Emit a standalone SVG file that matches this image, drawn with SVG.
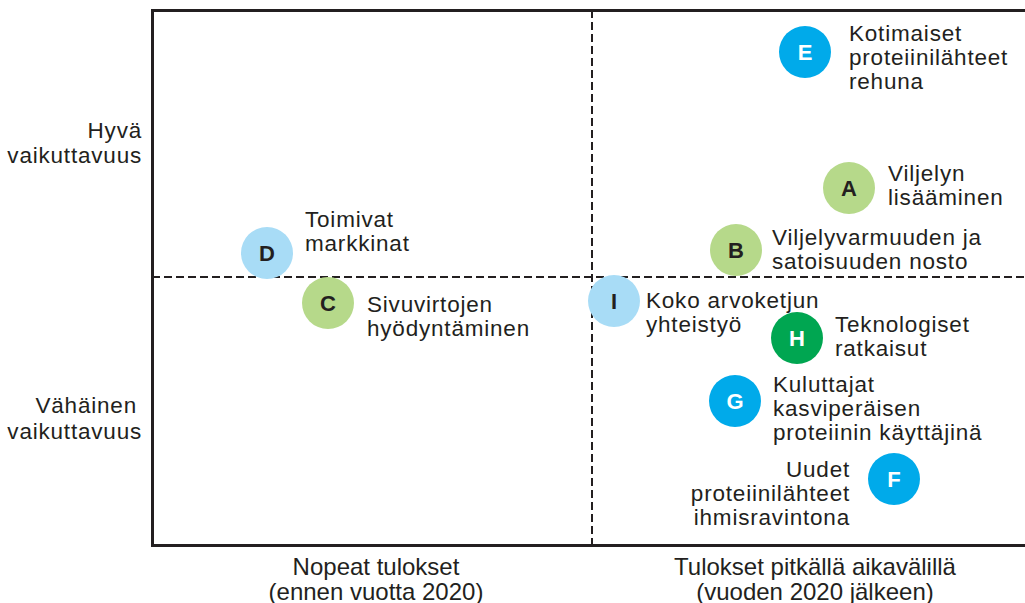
<svg xmlns="http://www.w3.org/2000/svg" width="1025" height="603" viewBox="0 0 1025 603">
<style>
.lbl{font-family:"Liberation Sans",Arial,Helvetica,sans-serif;font-size:22.5px;fill:#231f20;letter-spacing:0.8px}
.ax{font-family:"Liberation Sans",Arial,Helvetica,sans-serif;font-size:24px;fill:#231f20;text-anchor:middle}
.axl{font-family:"Liberation Sans",Arial,Helvetica,sans-serif;font-size:22.5px;fill:#231f20;text-anchor:end;letter-spacing:0.8px}
.let{font-family:"Liberation Sans",Arial,Helvetica,sans-serif;font-size:22px;font-weight:bold;text-anchor:middle}
.dk{fill:#231f20}
.wh{fill:#ffffff}
.lg{fill:#b6d98a}
.lb{fill:#a8dcf6}
.bl{fill:#00aaea}
.dg{fill:#00a651}
</style>
<rect width="1025" height="603" fill="#ffffff"/>
<g id="frame">
<path d="M1025 10.5 H152.5 V545.5 H1025" fill="none" stroke="#231f20" stroke-width="3"/>
</g>
<g id="connectors">
<line x1="152" y1="277" x2="1025" y2="277" stroke="#231f20" stroke-width="2" stroke-dasharray="8,4"/>
<line x1="592" y1="10" x2="592" y2="545" stroke="#231f20" stroke-width="2" stroke-dasharray="8,4"/>
</g>
<g id="axis-labels">
<text class="axl" x="142" y="138">Hyvä</text>
<text class="axl" x="142" y="163">vaikuttavuus</text>
<text class="axl" x="137" y="413">Vähäinen</text>
<text class="axl" x="142" y="439">vaikuttavuus</text>
<text class="ax" x="376" y="575">Nopeat tulokset</text>
<text class="ax" x="376" y="600">(ennen vuotta 2020)</text>
<text class="ax" x="815" y="575">Tulokset pitkällä aikavälillä</text>
<text class="ax" x="815" y="600">(vuoden 2020 jälkeen)</text>
</g>
<g id="node-E">
<circle class="bl" cx="805" cy="52" r="26"/>
<text class="let wh" x="805" y="60">E</text>
<text class="lbl" x="849" y="41">Kotimaiset</text>
<text class="lbl" x="849" y="65">proteiinilähteet</text>
<text class="lbl" x="849" y="89">rehuna</text>
</g>
<g id="node-A">
<circle class="lg" cx="849" cy="188" r="26"/>
<text class="let dk" x="849" y="196">A</text>
<text class="lbl" x="888" y="181">Viljelyn</text>
<text class="lbl" x="888" y="205">lisääminen</text>
</g>
<g id="node-B">
<circle class="lg" cx="736" cy="250" r="26"/>
<text class="let dk" x="736" y="258">B</text>
<text class="lbl" x="772" y="245">Viljelyvarmuuden ja</text>
<text class="lbl" x="772" y="269">satoisuuden nosto</text>
</g>
<g id="node-D">
<circle class="lb" cx="267" cy="253" r="26"/>
<text class="let dk" x="267" y="261">D</text>
<text class="lbl" x="305" y="227">Toimivat</text>
<text class="lbl" x="305" y="251">markkinat</text>
</g>
<g id="node-C">
<circle class="lg" cx="328" cy="303" r="26"/>
<text class="let dk" x="328" y="311">C</text>
<text class="lbl" x="367" y="312">Sivuvirtojen</text>
<text class="lbl" x="367" y="336">hyödyntäminen</text>
</g>
<g id="node-I">
<circle class="lb" cx="614" cy="301" r="26"/>
<text class="let dk" x="614" y="309">I</text>
<text class="lbl" x="646" y="308">Koko arvoketjun</text>
<text class="lbl" x="646" y="332">yhteistyö</text>
</g>
<g id="node-H">
<circle class="dg" cx="797" cy="338" r="26"/>
<text class="let wh" x="797" y="346">H</text>
<text class="lbl" x="835" y="332">Teknologiset</text>
<text class="lbl" x="835" y="356">ratkaisut</text>
</g>
<g id="node-G">
<circle class="bl" cx="735" cy="401" r="26"/>
<text class="let wh" x="735" y="409">G</text>
<text class="lbl" x="773" y="392">Kuluttajat</text>
<text class="lbl" x="773" y="416">kasviperäisen</text>
<text class="lbl" x="773" y="440">proteiinin käyttäjinä</text>
</g>
<g id="node-F">
<circle class="bl" cx="894" cy="479" r="26"/>
<text class="let wh" x="894" y="487">F</text>
<text class="lbl" x="850" y="477" text-anchor="end">Uudet</text>
<text class="lbl" x="850" y="501" text-anchor="end">proteiinilähteet</text>
<text class="lbl" x="850" y="525" text-anchor="end">ihmisravintona</text>
</g>
</svg>
